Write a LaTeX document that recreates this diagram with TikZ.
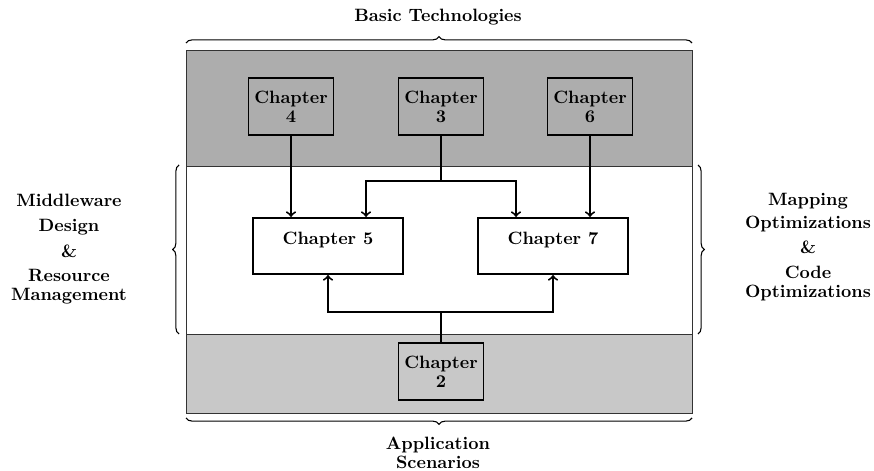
\documentclass[tikz,border=0pt]{standalone}
\usetikzlibrary{calc,decorations.pathreplacing}
\definecolor{bandtop}{HTML}{ADADAD}
\definecolor{bandbot}{HTML}{C8C8C8}
\begin{document}
\begin{tikzpicture}[x=0.56pt,y=-0.56pt,
  font=\bfseries\fontsize{10}{10.6}\selectfont,
  band/.style={draw=black!80,line width=0.5pt},
  chapbox/.style={draw,line width=1.1pt,align=center,inner sep=0pt,
    minimum width=85*0.56pt,minimum height=57*0.56pt},
  widebox/.style={draw,fill=white,line width=1.1pt,inner sep=0pt,
    minimum width=150*0.56pt,text height=14.6pt,text depth=16.8pt},
  arr/.style={->,line width=1.1pt},
  link/.style={line width=1.1pt},
  bracedeco/.style={decorate,decoration={brace,amplitude=3.5pt},line width=0.6pt}]
\useasboundingbox (0,0) rectangle (874,471);

% layered bands
\fill[bandtop] (186,50) rectangle (692,166);
\fill[white] (186,166) rectangle (692,334);
\fill[bandbot] (186,334) rectangle (692,413);
\draw[band] (186,166) -- (692,166) (186,334) -- (692,334);
\draw[band] (186,50) rectangle (692,413);

% chapter boxes
\node[chapbox] (c4) at (291,106.5) {Chapter\\4};
\node[chapbox] (c3) at (441,106.5) {Chapter\\3};
\node[chapbox] (c6) at (590,106.5) {Chapter\\6};
\node[widebox] (c5) at (328,246) {Chapter 5};
\node[widebox] (c7) at (553,246) {Chapter 7};
\node[chapbox] (c2) at (441,371.5) {Chapter\\2};

% dependencies
\coordinate (j3) at (441,181);
\coordinate (j2) at (441,312);
\draw[arr] (c4.south) -- (c4.south |- c5.north);
\draw[arr] (c6.south) -- (c6.south |- c7.north);
\draw[link] (c3.south) -- (j3);
\draw[arr] (j3) -| ($(c5.north)+(38,0)$);
\draw[arr] (j3) -| ($(c7.north)+(-37,0)$);
\draw[link] (c2.north) -- (j2);
\draw[arr] (j2) -| (c5.south);
\draw[arr] (j2) -| (c7.south);

% braces and their captions
\draw[bracedeco] (186,43) -- (692,43);
\draw[bracedeco] (692,418) -- (186,418);
\draw[bracedeco] (179,334) -- (179,165);
\draw[bracedeco] (698,165) -- (698,334);

\node (top) at (438,17) {Basic Technologies};
\node[align=center] (bot) at (438,453) {Application\\Scenarios};
\node[align=center] (left) at (69,249)
  {Middleware\\[3.4pt]Design\\[4pt]\&\\[2.8pt]Resource\\Management};
\node[align=center] (right) at (808,247)
  {Mapping\\[2.3pt]Optimizations\\[3.4pt]\&\\[3.4pt]Code\\Optimizations};
\end{tikzpicture}
\end{document}
